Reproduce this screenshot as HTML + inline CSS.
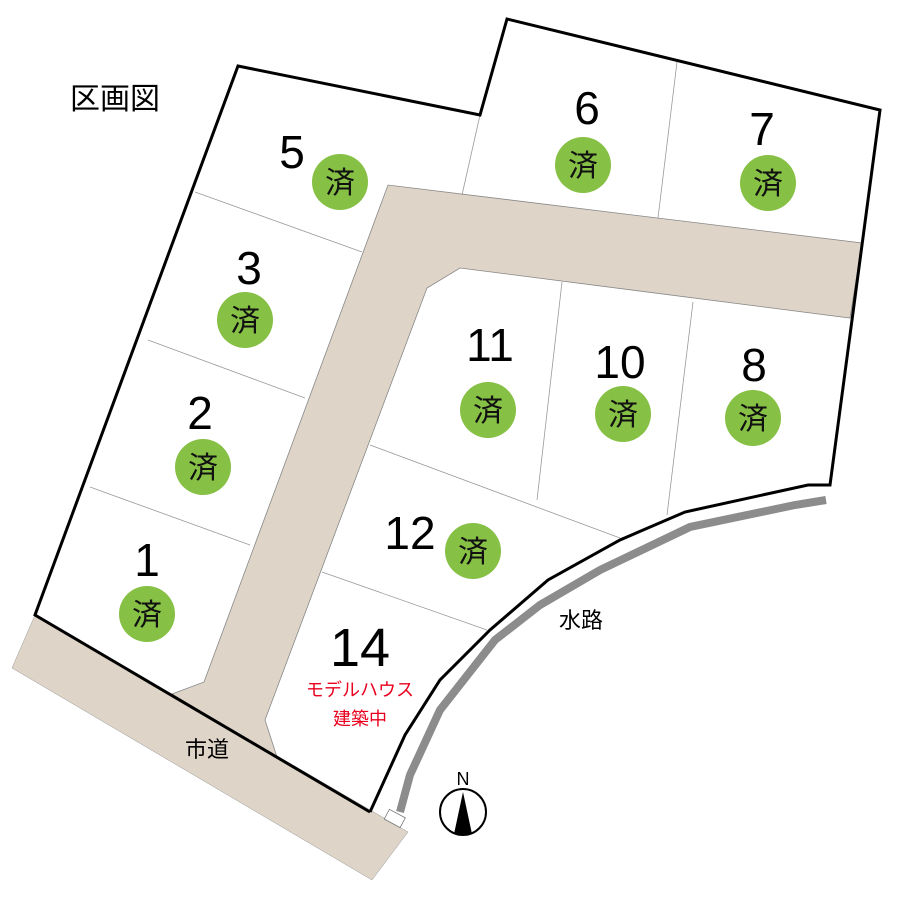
<!DOCTYPE html>
<html><head><meta charset="utf-8"><style>html,body{margin:0;padding:0;background:#fff}svg{display:block}text{font-family:"Liberation Sans","Noto Sans CJK JP",sans-serif}</style></head><body>
<svg width="900" height="898" viewBox="0 0 900 898" xmlns="http://www.w3.org/2000/svg">
<rect width="900" height="898" fill="#fff"/>
<!-- city road -->
<polygon points="12,668 35,615 408,832 372,880" fill="#ded4c7" stroke="#999" stroke-width="0.5"/>
<!-- inner road -->
<polygon points="172,694 204,682 388,185 862,243 850,318 460,268 427,288 265,720 277,757" fill="#ded4c7" stroke="#888" stroke-width="0.8"/>
<!-- dividers -->
<g stroke="#999" stroke-width="0.8" fill="none">
<line x1="195" y1="192" x2="362" y2="252"/>
<line x1="148" y1="340" x2="305" y2="398"/>
<line x1="90" y1="487" x2="250" y2="545"/>
<line x1="480" y1="115" x2="462" y2="195"/>
<line x1="677" y1="62" x2="658" y2="218"/>
<line x1="562" y1="282" x2="537" y2="500"/>
<line x1="693" y1="302" x2="667" y2="515"/>
<line x1="370" y1="445" x2="620" y2="538"/>
<line x1="322" y1="572" x2="487" y2="630"/>
</g>
<!-- water channel -->
<polyline points="826,500 795,505 690,527 600,570 540,605 495,640 440,710 410,775 400,812" fill="none" stroke="#8c8c8c" stroke-width="8"/>
<rect x="386" y="813" width="18" height="11" fill="#fff" stroke="#777" stroke-width="0.8" transform="rotate(28 395 818)"/>
<!-- boundary -->
<polyline points="370,812 35,615 238,66 480,115 507,19 880,110 830,485 808,485 685,512 620,540 548,580 490,630 440,680 405,735 370,812" fill="none" stroke="#000" stroke-width="3" stroke-linejoin="miter"/>
<!-- circles -->
<g fill="#86c045">
<circle cx="340" cy="182" r="28"/><circle cx="583" cy="165" r="28"/><circle cx="768" cy="183" r="28"/>
<circle cx="245" cy="320" r="28"/><circle cx="488" cy="410" r="28"/><circle cx="623" cy="414" r="28"/>
<circle cx="753" cy="418" r="28"/><circle cx="203" cy="467" r="28"/><circle cx="473" cy="551" r="28"/>
<circle cx="147" cy="614" r="28"/>
</g>
<g font-size="30" text-anchor="middle" fill="#111">
<text x="340" y="193">済</text><text x="583" y="176">済</text><text x="768" y="194">済</text>
<text x="245" y="331">済</text><text x="488" y="421">済</text><text x="623" y="425">済</text>
<text x="753" y="429">済</text><text x="203" y="478">済</text><text x="473" y="562">済</text>
<text x="147" y="625">済</text>
</g>
<g font-size="46" text-anchor="middle" fill="#000">
<text x="292" y="168">5</text><text x="587" y="124">6</text><text x="762" y="145">7</text>
<text x="249" y="284">3</text><text x="490" y="361">11</text><text x="620" y="378">10</text>
<text x="754" y="381">8</text><text x="200" y="429">2</text><text x="410" y="549">12</text>
<text x="147" y="576">1</text>
<text x="360" y="666" font-size="54">14</text>
</g>
<g font-size="18" fill="#e8001e" text-anchor="middle">
<text x="360" y="696">モデルハウス</text><text x="360" y="725">建築中</text>
</g>
<text x="115" y="109" font-size="30" text-anchor="middle">区画図</text>
<text x="207" y="757" font-size="22" text-anchor="middle">市道</text>
<text x="581" y="628" font-size="22" text-anchor="middle">水路</text>
<!-- compass -->
<circle cx="463" cy="812" r="23" fill="#fff" stroke="#000" stroke-width="2"/>
<polygon points="463,792 454,834 472,834" fill="#000"/>
<text x="463" y="785" font-size="18" text-anchor="middle">N</text>
</svg>
</body></html>
